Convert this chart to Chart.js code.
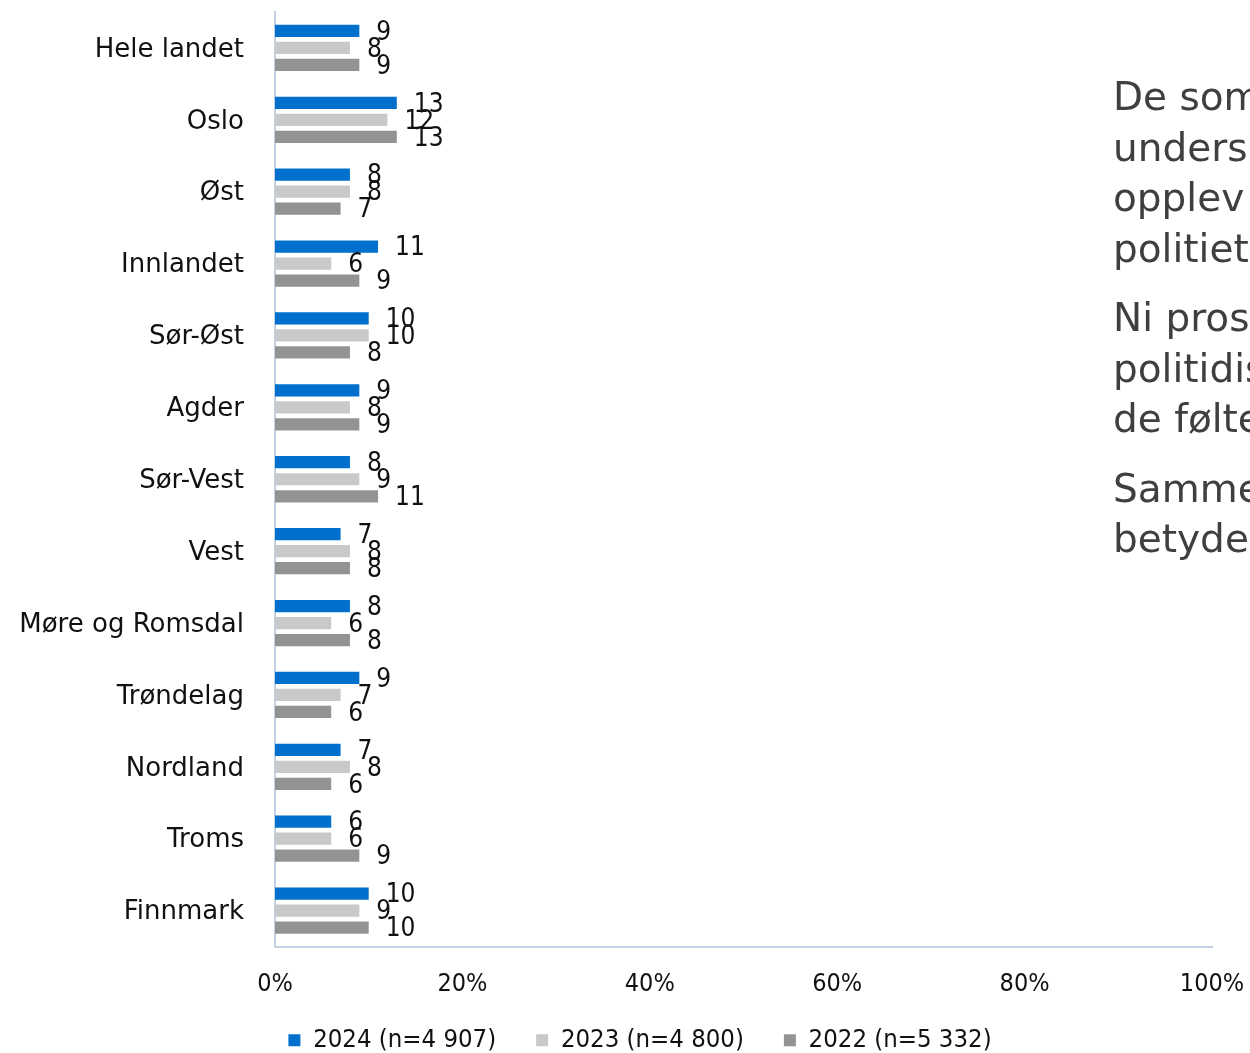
<!DOCTYPE html>
<html>
<head>
<meta charset="utf-8">
<script src="https://cdn.jsdelivr.net/npm/chart.js@4.4.1/dist/chart.umd.min.js"></script>
<style>
  html, body { margin: 0; padding: 0; background: #fff; overflow: hidden; width: 1250px; height: 1053px; }
  #wrap { position: absolute; left: 0; top: 0; width: 1280px; height: 1053px; }
  #side { position: absolute; left: 1113px; top: 72px; width: 137px; overflow: hidden;
          font-family: "DejaVu Sans", sans-serif; font-size: 39px; line-height: 50.5px; color: #3f3f3f; white-space: nowrap; }
  #side p { margin: 0 0 19px 0; }
</style>
</head>
<body>
<div id="wrap"><canvas id="c" width="1280" height="1053"></canvas></div>
<div id="side">
  <p>De som<br>unders<br>opplev<br>politiet</p>
  <p>Ni pros<br>politidis<br>de følte</p>
  <p>Samme<br>betyde</p>
</div>
<script>
const categories = ["Hele landet", "Oslo", "Øst", "Innlandet", "Sør-Øst", "Agder", "Sør-Vest", "Vest", "Møre og Romsdal", "Trøndelag", "Nordland", "Troms", "Finnmark"];
const seriesNames = ["2024 (n=4 907)", "2023 (n=4 800)", "2022 (n=5 332)"];
const values2024 = [9, 13, 8, 11, 10, 9, 8, 7, 8, 9, 7, 6, 10];
const values2023 = [8, 12, 8, 6, 10, 8, 9, 8, 6, 7, 8, 6, 9];
const values2022 = [9, 13, 7, 9, 8, 9, 11, 8, 8, 6, 6, 9, 10];
const xTicks = [0, 20, 40, 60, 80, 100];
const colors = ["#0070CC", "#C8C9CA", "#939393"];

const valueLabels = {
  id: "valueLabels",
  afterDatasetsDraw(chart) {
    const ctx = chart.ctx;
    ctx.save();
    ctx.font = '26px "DejaVu Sans Condensed", "DejaVu Sans", sans-serif';
    ctx.fillStyle = "#111";
    ctx.textAlign = "left";
    ctx.textBaseline = "middle";
    chart.data.datasets.forEach((ds, i) => {
      const meta = chart.getDatasetMeta(i);
      meta.data.forEach((el, j) => {
        ctx.fillText(String(ds.data[j]), el.x + 17, el.y + 2);
      });
    });
    ctx.restore();
  }
};

// shift the legend box so it sits where the reference legend is
const legendShift = {
  id: "legendShift",
  afterLayout(chart) {
    const lg = chart.legend;
    if (!lg) return;
    lg.left += 34; lg.right += 34;
    lg.top -= 19; lg.bottom -= 19;
  }
};

const axisColor = "#C3D1E4";
new Chart(document.getElementById("c"), {
  type: "bar",
  data: {
    labels: categories,
    datasets: [
      { label: seriesNames[0], data: values2024, backgroundColor: colors[0] },
      { label: seriesNames[1], data: values2023, backgroundColor: colors[1] },
      { label: seriesNames[2], data: values2022, backgroundColor: colors[2] }
    ]
  },
  options: {
    indexAxis: "y",
    responsive: false,
    animation: false,
    events: [],
    layout: { padding: { top: 12, left: 0, right: 68, bottom: -29 } },
    datasets: { bar: { barPercentage: 0.72, categoryPercentage: 0.71 } },
    scales: {
      x: {
        min: 0, max: 100,
        afterBuildTicks(scale) { scale.ticks = xTicks.map(v => ({ value: v })); },
        afterFit(scale) { scale.height = 60; },
        grid: { display: false, drawTicks: false },
        border: { display: true, color: axisColor, width: 2 },
        ticks: {
          padding: 23,
          color: "#111",
          font: { family: '"DejaVu Sans Condensed", "DejaVu Sans", sans-serif', size: 25 },
          callback: v => v + "%"
        }
      },
      y: {
        afterFit(scale) { scale.width = 275; scale.paddingTop = 0; scale.paddingBottom = 0; },
        grid: { display: false, drawTicks: false },
        border: { display: true, color: axisColor, width: 2 },
        ticks: {
          padding: 31,
          labelOffset: 2,
          color: "#111",
          font: { family: '"DejaVu Sans", sans-serif', size: 26 }
        }
      }
    },
    plugins: {
      tooltip: { enabled: false },
      legend: {
        position: "bottom",
        labels: {
          boxWidth: 12, boxHeight: 12, padding: 40,
          color: "#111",
          font: { family: '"DejaVu Sans Condensed", "DejaVu Sans", sans-serif', size: 25.5 }
        }
      }
    }
  },
  plugins: [valueLabels, legendShift]
});
</script>
</body>
</html>
